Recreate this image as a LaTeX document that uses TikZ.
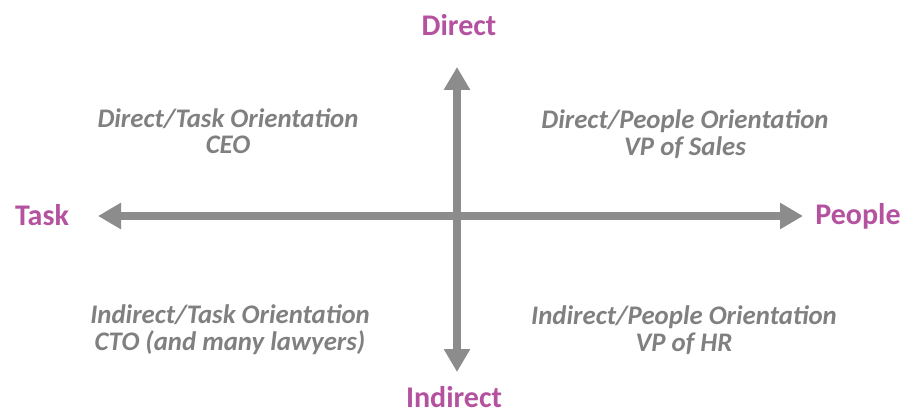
\documentclass[tikz,border=0pt]{standalone}
\usepackage{fontspec}
\setmainfont{Carlito}
\usetikzlibrary{arrows.meta}

\definecolor{polepurple}{RGB}{180,82,160}
\definecolor{axisgray}{RGB}{140,140,140}
\definecolor{textgray}{RGB}{128,128,128}

\begin{document}
\begin{tikzpicture}[x=1pt, y=1pt,
axis_style/.style={line width=8pt, draw=axisgray, {Triangle[length=23pt,width=25pt]}-{Triangle[length=23pt,width=25pt]}},
pole_style/.style={anchor=base, inner sep=0pt, text=polepurple, font=\fontsize{30}{36}\selectfont\bfseries},
quad_style/.style={anchor=base, inner sep=0pt, align=center, text=textgray, font=\fontsize{26.8}{26.5}\selectfont\bfseries\itshape},
]
\useasboundingbox (0,0) rectangle (907,413);

% ends of the two axes
\coordinate (task_end) at (98,197);
\coordinate (people_end) at (803,197);
\coordinate (direct_end) at (457,346);
\coordinate (indirect_end) at (457,41);

\draw[axis_style] (task_end) -- (people_end);
\draw[axis_style] (indirect_end) -- (direct_end);

% pole labels
\node[pole_style] (direct) at (459,377) {Direct};
\node[pole_style] (indirect) at (454,6) {Indirect};
\node[pole_style] (task) at (42,188) {Task};
\node[pole_style] (people) at (858,189) {People};

% the four quadrants (base = last line)
\node[quad_style] (dir_task) at (228,259) {Direct/Task Orientation\\CEO};
\node[quad_style] (dir_people) at (685,258) {Direct/People Orientation\\VP of Sales};
\node[quad_style] (ind_task) at (230,63) {Indirect/Task Orientation\\CTO (and many lawyers)};
\node[quad_style] (ind_people) at (684,62) {Indirect/People Orientation\\VP of HR};

\end{tikzpicture}
\end{document}
